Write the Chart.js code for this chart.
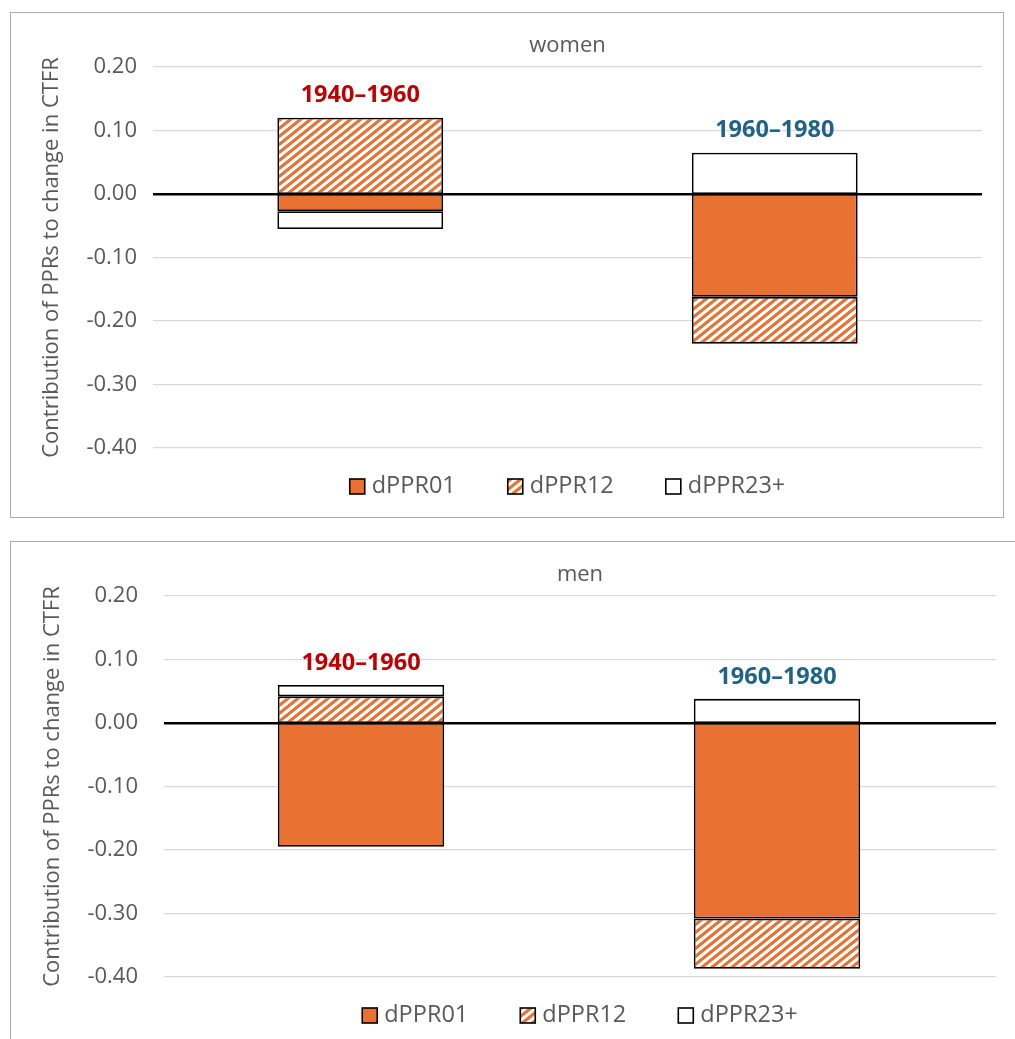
<!DOCTYPE html>
<html>
<head>
<meta charset="utf-8">
<script src="https://cdn.jsdelivr.net/npm/chart.js@4.4.1/dist/chart.umd.min.js"></script>
<style>
  html, body { margin: 0; padding: 0; background: #fff; overflow: hidden; }
  .panel { position: absolute; border: 1px solid #adadad; background: #fff; }
  #womenPanel { left: 10px; top: 12px; width: 992px; height: 504px; }
  #menPanel { left: 10px; top: 541px; width: 1020px; height: 520px; }
  canvas { display: block; }
</style>
</head>
<body>
<div class="panel" id="womenPanel"><canvas id="women" width="992" height="504"></canvas></div>
<div class="panel" id="menPanel"><canvas id="men" width="1004" height="500"></canvas></div>
<script>
// data
const categories = ['1940–1960', '1960–1980'];
const seriesNames = ['dPPR01', 'dPPR12', 'dPPR23+'];
const womenPPR01 = [-0.027, -0.162];
const womenPPR12 = [0.120, -0.074];
const womenPPR23 = [-0.028, 0.065];
const menPPR01 = [-0.195, -0.308];
const menPPR12 = [0.042, -0.079];
const menPPR23 = [0.018, 0.038];
const yMin = -0.4, yMax = 0.2, yStep = 0.1;
const periodColors = ['#C00000', '#1F6388'];

const ORANGE = [233, 113, 50];
const ORANGE_CSS = 'rgb(233,113,50)';
const TEXT = '#595959';
const FONT = "'Open Sans', sans-serif";

// upward diagonal hatch, supersampled so the stripes are soft like the original
function makeHatch(ctx) {
  const w = 10, h = 8, ss = 4;
  const c = document.createElement('canvas');
  c.width = w; c.height = h;
  const g = c.getContext('2d');
  const img = g.createImageData(w, h);
  for (let y = 0; y < h; y++) {
    for (let x = 0; x < w; x++) {
      let hit = 0;
      for (let sy = 0; sy < ss; sy++)
        for (let sx = 0; sx < ss; sx++) {
          const px = x + (sx + 0.5) / ss, py = y + (sy + 0.5) / ss;
          const t = ((h * px + w * py) % (w * h) + w * h) % (w * h);
          if (t < w * h / 2) hit++;
        }
      const a = hit / (ss * ss);
      const i = (y * w + x) * 4;
      img.data[i] = Math.round(255 + (ORANGE[0] - 255) * a);
      img.data[i + 1] = Math.round(255 + (ORANGE[1] - 255) * a);
      img.data[i + 2] = Math.round(255 + (ORANGE[2] - 255) * a);
      img.data[i + 3] = 255;
    }
  }
  g.putImageData(img, 0, 0);
  return ctx.createPattern(c, 'repeat');
}

// period labels above each stack
const periodLabels = {
  id: 'periodLabels',
  afterDatasetsDraw(chart) {
    const ctx = chart.ctx;
    ctx.save();
    ctx.font = "bold 23.5px " + FONT;
    ctx.textAlign = 'center';
    ctx.textBaseline = 'middle';
    categories.forEach((cat, i) => {
      let top = Infinity, x = 0;
      chart.data.datasets.forEach((ds, di) => {
        const el = chart.getDatasetMeta(di).data[i];
        top = Math.min(top, el.y, el.base);
        x = el.x;
      });
      ctx.fillStyle = periodColors[i];
      ctx.fillText(cat, x, top - 22);
    });
    ctx.restore();
  }
};

// legend under the plot, centred on the plot area
const boxLegend = {
  id: 'boxLegend',
  afterDraw(chart) {
    const ctx = chart.ctx;
    const area = chart.chartArea;
    ctx.save();
    ctx.font = "23.5px " + FONT;
    ctx.textBaseline = 'middle';
    const box = 15, gap = 7, spacing = 52;
    const widths = seriesNames.map(n => box + gap + ctx.measureText(n).width);
    const total = widths.reduce((a, b) => a + b, 0) + spacing * (widths.length - 1);
    let x = (area.left + area.right) / 2 - total / 2;
    const y = area.bottom + 38;
    chart.data.datasets.forEach((ds, i) => {
      ctx.fillStyle = ds.backgroundColor;
      ctx.fillRect(x, y - 7, box, 15);
      ctx.lineWidth = 1.6;
      ctx.strokeStyle = '#000';
      ctx.strokeRect(x, y - 7, box, 15);
      ctx.fillStyle = TEXT;
      ctx.fillText(seriesNames[i], x + box + gap, y);
      x += widths[i] + spacing;
    });
    ctx.restore();
  }
};

// the men panel has its bars a little left of the category centres
const shiftX = {
  id: 'shiftX',
  afterLayout(chart, args, opts) {
    if (!opts.px) return;
    const s = chart.scales.x;
    s.left += opts.px;
    s.right += opts.px;
    s.configure();
  }
};

function makeChart(id, title, d01, d12, d23, axisWidth, tickPad, titlePad, rightPad, xShift) {
  const canvas = document.getElementById(id);
  const ctx = canvas.getContext('2d');
  const colors = [ORANGE_CSS, makeHatch(ctx), '#ffffff'];
  const series = [d01, d12, d23];
  return new Chart(ctx, {
    type: 'bar',
    data: {
      labels: categories,
      datasets: series.map((vals, i) => ({
        label: seriesNames[i],
        data: vals,
        backgroundColor: colors[i],
        borderColor: '#000',
        borderWidth: 1.8,
        borderSkipped: false,
        categoryPercentage: 1,
        barPercentage: 0.4
      }))
    },
    options: {
      responsive: false,
      animation: false,
      devicePixelRatio: 1,
      layout: { padding: { left: 0, right: rightPad, top: 0, bottom: canvas.height - 435 } },
      plugins: {
        legend: { display: false },
        tooltip: { enabled: false },
        shiftX: { px: xShift },
        title: {
          display: true,
          text: title,
          fullSize: false,
          color: TEXT,
          font: { family: FONT, size: 22, weight: 'normal' },
          padding: { top: 20, bottom: 7.6 }
        }
      },
      scales: {
        x: { stacked: true, display: false },
        y: {
          stacked: true,
          min: yMin,
          max: yMax,
          afterFit(scale) { scale.width = axisWidth; },
          border: { display: false },
          grid: {
            drawTicks: false,
            color: c => Math.abs(c.tick.value) < 1e-9 ? '#000' : '#d9d9d9',
            lineWidth: c => Math.abs(c.tick.value) < 1e-9 ? 2.5 : 1.3
          },
          ticks: {
            stepSize: yStep,
            padding: tickPad,
            color: TEXT,
            font: { family: FONT, size: 22 },
            callback: v => Math.abs(v) < 1e-9 ? '0.00' : v.toFixed(2)
          },
          title: {
            display: true,
            text: 'Contribution of PPRs to change in CTFR',
            color: TEXT,
            font: { family: FONT, size: 22 },
            padding: { top: titlePad, bottom: 0 }
          }
        }
      }
    },
    plugins: [periodLabels, boxLegend, shiftX]
  });
}

makeChart('women', 'women', womenPPR01, womenPPR12, womenPPR23, 142, 16, 28, 21, 0);
makeChart('men', 'men', menPPR01, menPPR12, menPPR23, 153, 26, 29, 19, -11);
</script>
</body>
</html>
